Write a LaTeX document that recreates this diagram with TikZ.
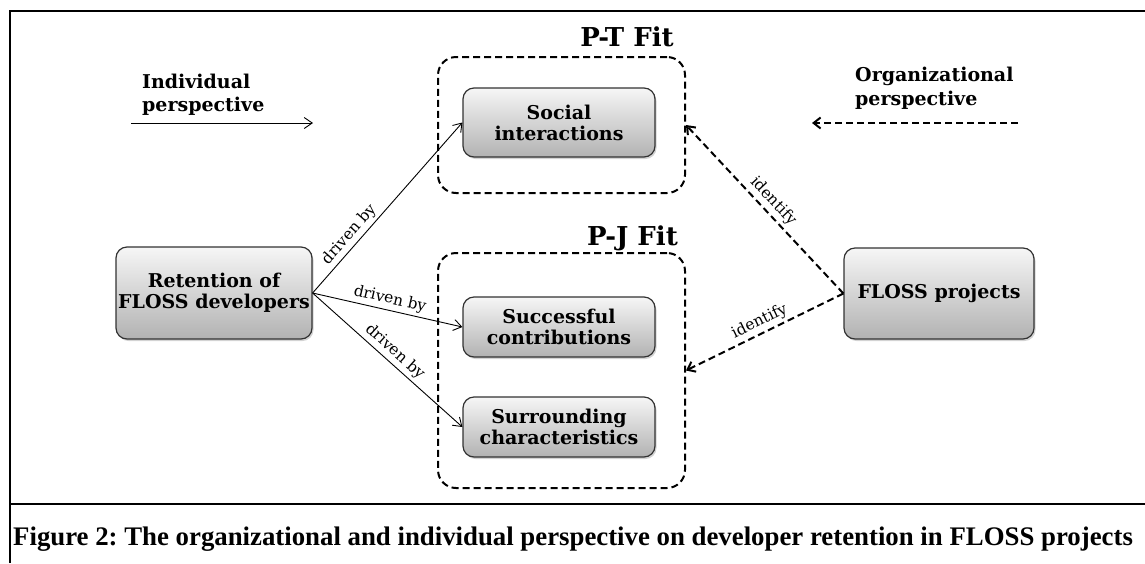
\documentclass[tikz,border=0pt]{standalone}
\usepackage{fontspec}
\setmainfont{DejaVu Serif}
\newfontfamily\captionfont{Liberation Serif}
\usetikzlibrary{arrows.meta,shadows}
\frenchspacing

\begin{document}
\begin{tikzpicture}[x=1pt,y=-1pt,
  fitbox/.style={draw=black,line width=2pt,dash pattern=on 7pt off 4pt,rounded corners=18pt,minimum width=247pt,inner sep=0pt},
  factor/.style={draw=custcol_edge,line width=1.2pt,rounded corners=11pt,top color=custcol_top,bottom color=custcol_bot,
    drop shadow={shadow xshift=1.5pt,shadow yshift=-2pt,opacity=.35},align=center,inner sep=0pt,
    font=\fontsize{19}{21}\selectfont\bfseries},
  persp/.style={align=left,inner sep=0pt,font=\fontsize{19}{23.5}\selectfont\bfseries},
  fitlabel/.style={inner sep=0pt,font=\fontsize{26}{26}\selectfont\bfseries},
  drive/.style={-{Straight Barb[length=8pt,width=11pt]},line width=0.9pt},
  ident/.style={-{Straight Barb[length=7pt,width=11pt]},line width=2pt,dash pattern=on 7pt off 4pt},
  lbl/.style={sloped,above,inner sep=3pt,font=\fontsize{15.5}{15.5}\selectfont}]
	\definecolor{custcol_edge}{RGB}{50, 50, 50}
	\definecolor{custcol_top}{RGB}{246, 246, 246}
	\definecolor{custcol_bot}{RGB}{178, 178, 178}
	\useasboundingbox (0,0) rectangle (1145,563);
	% frame and caption
	\draw [line width=2pt] (10,563) -- (10,11) -- (1145,11);
	\draw [line width=2pt] (10,504) -- (1145,504);
	\node[inner sep=0pt, anchor=base west, font=\captionfont\fontsize{26.8}{26.8}\selectfont\bfseries] (caption) at (13,545)
		{Figure 2: The organizational and individual perspective on developer retention in FLOSS projects};
	% the two perspectives
	\node[persp, anchor=west] (indiv) at (142,95) {Individual\\perspective};
	\node[persp, anchor=west] (orgn) at (855,88.5) {Organizational\\perspective};
	\coordinate (indivA) at (131,123);
	\coordinate (indivB) at (313,123);
	\coordinate (orgnA) at (1018,123);
	\coordinate (orgnB) at (812,123);
	\draw [drive] (indivA) -- (indivB);
	\draw [ident] (orgnA) -- (orgnB);
	% fit groups
	\node[fitbox, minimum height=136pt] (ptfit) at (561.5,125) {};
	\node[fitbox, minimum height=235pt] (pjfit) at (561.5,370.5) {};
	\node[fitlabel, anchor=base] (ptlabel) at (627,46) {P-T Fit};
	\node[fitlabel, anchor=base] (pjlabel) at (632.5,245) {P-J Fit};
	% factors
	\node[factor, minimum width=196pt, minimum height=92pt] (retention) at (214,293) {Retention of\\FLOSS developers};
	\node[factor, minimum width=190pt, minimum height=91pt] (projects) at (939,293.5) {FLOSS projects};
	\node[factor, minimum width=192pt, minimum height=69pt] (social) at (559,122.5) {Social\\interactions};
	\node[factor, minimum width=192pt, minimum height=60pt] (success) at (559,327) {Successful\\contributions};
	\node[factor, minimum width=192pt, minimum height=60pt] (surround) at (559,427) {Surrounding\\characteristics};
	% connectors
	\draw [drive] (retention.east) -- node[lbl, pos=.3] {driven by} (social.west);
	\draw [drive] (retention.east) -- node[lbl, pos=.5] {driven by} (success.west);
	\draw [drive] (retention.east) -- node[lbl, pos=.5] {driven by} (surround.west);
	\draw [ident] (projects.west) -- node[lbl, pos=.5] {identify} (ptfit.east);
	\draw [ident] (projects.west) -- node[lbl, pos=.5] {identify} (pjfit.east);
\end{tikzpicture}
\end{document}
